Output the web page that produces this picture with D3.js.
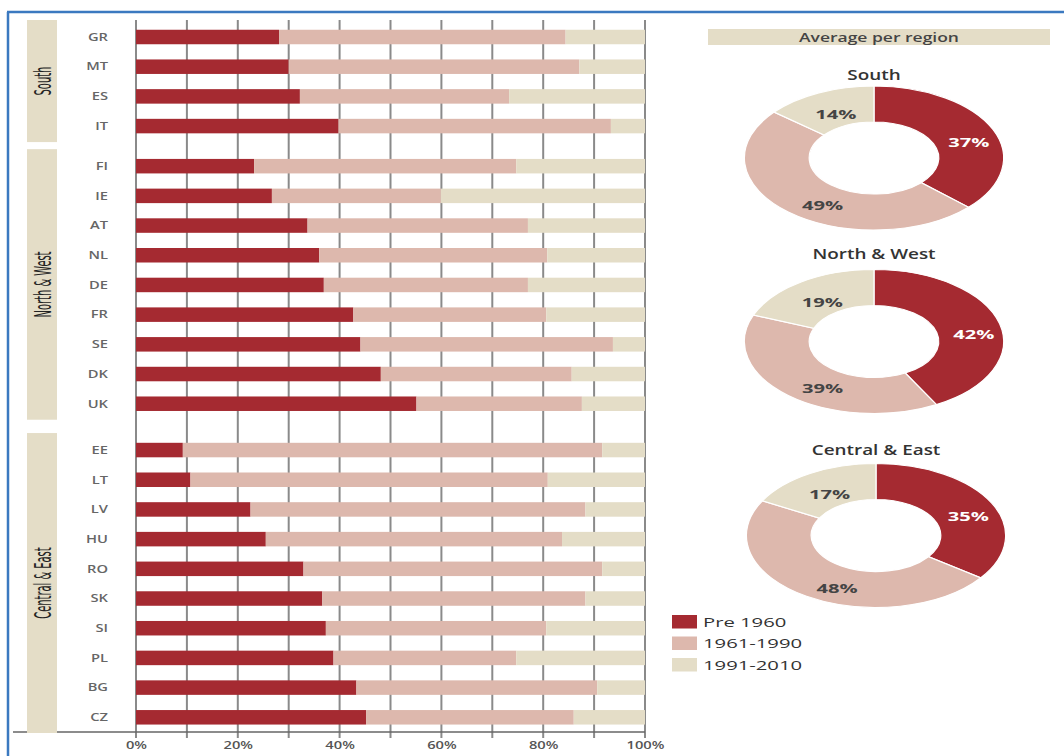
<!DOCTYPE html>
<html>
<head>
<meta charset="utf-8">
<script src="https://cdn.jsdelivr.net/npm/d3@7"></script>
<style>
  body { margin: 0; background: #fff; }
  svg { display: block; }
  text { font-family: "Open Sans", "DejaVu Sans", sans-serif; }
  .region-label { font-family: "Liberation Sans Narrow", "DejaVu Sans Condensed", sans-serif; font-size: 11px; fill: #222; }
</style>
</head>
<body>
<div id="chart"></div>
<script>
// Countries, top to bottom, and the region each belongs to
var countries = ["GR","MT","ES","IT","FI","IE","AT","NL","DE","FR","SE","DK","UK","EE","LT","LV","HU","RO","SK","SI","PL","BG","CZ"];
var regionOf  = ["South","South","South","South",
                 "North & West","North & West","North & West","North & West","North & West","North & West","North & West","North & West","North & West",
                 "Central & East","Central & East","Central & East","Central & East","Central & East","Central & East","Central & East","Central & East","Central & East","Central & East"];

// share of dwellings by construction period (%)
var pre1960  = [28.1,30.0,32.2,39.8, 23.2,26.7,33.7,36.0,36.9,42.7,44.1,48.1,55.1, 9.2,10.7,22.5,25.5,32.9,36.6,37.3,38.8,43.3,45.2];
var y1961_90 = [56.3,57.1,41.1,53.5, 51.5,33.2,43.3,44.8,40.1,37.9,49.6,37.5,32.5, 82.4,70.2,65.8,58.2,58.7,51.7,43.3,35.9,47.3,40.8];
var y1991_10 = [15.6,12.9,26.7, 6.7, 25.3,40.1,23.0,19.2,23.0,19.4, 6.3,14.4,12.4, 8.4,19.1,11.7,16.3, 8.4,11.7,19.4,25.3, 9.4,14.0];

var seriesNames = ["Pre 1960","1961-1990","1991-2010"];
var seriesColors = ["#a52a31","#ddb8ad","#e4ddc7"];

var regions = ["South","North & West","Central & East"];
// average per region (%), same order as seriesNames
var avgPre    = [37, 42, 35];
var avgMid    = [49, 39, 48];
var avgRecent = [14, 19, 17];

var xTicks = [0,10,20,30,40,50,60,70,80,90,100];
var xTickLabels = ["0%","","20%","","40%","","60%","","80%","","100%"];

var width = 1064, height = 756;
var stretch = 1.4; // the original artwork is squashed horizontally

var svg = d3.select("#chart").append("svg")
  .attr("width", width)
  .attr("height", height);

// blue frame
svg.append("line").attr("x1", 7).attr("x2", width).attr("y1", 12).attr("y2", 12)
  .attr("stroke", "#3b79c0").attr("stroke-width", 2.5);
svg.append("line").attr("x1", 8).attr("x2", 8).attr("y1", 12).attr("y2", height)
  .attr("stroke", "#3b79c0").attr("stroke-width", 2.5);

var x = d3.scaleLinear().domain([0, 100]).range([136, 645]);

// extra gap (in rows) before each region block
var gapBefore = {"South": 0, "North & West": 0.35, "Central & East": 0.91};
var rowPos = countries.map(function(c, i) { return i + gapBefore[regionOf[i]]; });
var y = d3.scaleLinear().domain([0, rowPos[rowPos.length - 1]]).range([37, 717.3]);
var barH = 14.5;

// vertical grid lines (behind the bars)
svg.append("g").selectAll("line")
  .data(xTicks)
  .enter().append("line")
  .attr("x1", function(d) { return x(d); })
  .attr("x2", function(d) { return x(d); })
  .attr("y1", 20)
  .attr("y2", 738)
  .attr("stroke", "#8a8a8a")
  .attr("stroke-width", 2);

// bottom axis
var xAxis = d3.axisBottom(x)
  .tickValues(xTicks)
  .tickSize(0)
  .tickPadding(10)
  .tickFormat(function(d, i) { return xTickLabels[i]; });
var axisG = svg.append("g").attr("transform", "translate(0,732)").call(xAxis);
axisG.select(".domain").remove();
axisG.selectAll("text")
  .attr("fill", "#555")
  .style("font-size", "10.5px")
  .style("font-weight", 600)
  .attr("transform", "scale(" + stretch + ",1)");
svg.append("line").attr("x1", 13).attr("x2", 645).attr("y1", 732).attr("y2", 732)
  .attr("stroke", "#666").attr("stroke-width", 1.5);

// stacked bars
var rows = countries.map(function(c, i) {
  return {name: c, vals: [pre1960[i], y1961_90[i], y1991_10[i]], pos: rowPos[i]};
});
var barG = svg.append("g");
rows.forEach(function(r) {
  var acc = 0;
  r.vals.forEach(function(v, k) {
    barG.append("rect")
      .attr("x", x(acc))
      .attr("y", y(r.pos) - barH / 2)
      .attr("width", x(acc + v) - x(acc))
      .attr("height", barH)
      .attr("fill", seriesColors[k]);
    acc += v;
  });
});

// country labels
svg.append("g").selectAll("text")
  .data(rows)
  .enter().append("text")
  .attr("transform", function(d) { return "translate(108," + y(d.pos) + ") scale(" + stretch + ",1)"; })
  .attr("dy", "0.36em")
  .attr("text-anchor", "end")
  .attr("fill", "#666")
  .style("font-size", "10.5px")
  .style("font-weight", 600)
  .text(function(d) { return d.name; });

// region boxes on the left
regions.forEach(function(reg) {
  var idx = regionOf.map(function(r, i) { return r === reg ? i : -1; }).filter(function(i) { return i >= 0; });
  var top = y(rowPos[idx[0]]) - 17;
  var bottom = y(rowPos[idx[idx.length - 1]]) + 16;
  if (reg === "Central & East") bottom = 733;
  svg.append("rect")
    .attr("x", 27).attr("y", top)
    .attr("width", 30).attr("height", bottom - top)
    .attr("fill", seriesColors[2]);
  svg.append("text")
    .attr("class", "region-label")
    .attr("transform", "translate(51," + ((top + bottom) / 2) + ") scale(2.1,1) rotate(-90)")
    .attr("text-anchor", "middle")
    .text(reg);
});

// right panel: header
svg.append("rect").attr("x", 708).attr("y", 29).attr("width", 342).attr("height", 16)
  .attr("fill", seriesColors[2]);
svg.append("text")
  .attr("transform", "translate(879,42) scale(" + stretch + ",1)")
  .attr("text-anchor", "middle")
  .attr("fill", "#444")
  .style("font-size", "12.5px")
  .style("font-weight", 600)
  .text("Average per region");

// donuts
var donutCenters = [[874, 158], [874, 341.5], [876, 535.5]];
var titleY = [80, 259, 455];
var ry = 72, rxScale = 1.8;
var pie = d3.pie().sort(null);
var arc = d3.arc().innerRadius(36).outerRadius(ry);
var labelArc = d3.arc().innerRadius(55).outerRadius(55);

regions.forEach(function(reg, r) {
  var vals = [avgPre[r], avgMid[r], avgRecent[r]];
  var cx = donutCenters[r][0], cy = donutCenters[r][1];
  var arcs = pie(vals);

  svg.append("text")
    .attr("transform", "translate(" + cx + "," + titleY[r] + ") scale(" + stretch + ",1)")
    .attr("text-anchor", "middle")
    .attr("fill", "#333")
    .style("font-size", "13.5px")
    .style("font-weight", 600)
    .text(reg);

  var g = svg.append("g").attr("transform", "translate(" + cx + "," + cy + ") scale(" + rxScale + ",1)");
  g.selectAll("path")
    .data(arcs)
    .enter().append("path")
    .attr("d", arc)
    .attr("fill", function(d, i) { return seriesColors[i]; })
    .attr("stroke", "#fff")
    .attr("stroke-width", 1.2)
    .attr("vector-effect", "non-scaling-stroke");

  svg.append("g").selectAll("text")
    .data(arcs)
    .enter().append("text")
    .attr("transform", function(d, i) {
      var c = labelArc.centroid(d);
      var nudge = i === 1 ? 14 : 4; // labels sit a bit right in the original
      return "translate(" + (cx + c[0] * rxScale + nudge) + "," + (cy + c[1] + 6) + ") scale(1.55,1)";
    })
    .attr("text-anchor", "middle")
    .attr("dy", "0.36em")
    .attr("fill", function(d, i) { return i === 0 ? "#fff" : "#444"; })
    .style("font-size", "13px")
    .style("font-weight", 700)
    .text(function(d) { return d.data + "%"; });
});

// legend
var legend = svg.append("g").selectAll("g")
  .data(seriesNames)
  .enter().append("g")
  .attr("transform", function(d, i) { return "translate(672," + (615 + i * 21.5) + ")"; });
legend.append("rect")
  .attr("width", 25).attr("height", 13.5)
  .attr("fill", function(d, i) { return seriesColors[i]; });
legend.append("text")
  .attr("transform", "translate(31,7) scale(1.5,1)")
  .attr("dy", "0.36em")
  .attr("fill", "#333")
  .style("font-size", "13.5px")
  .text(function(d) { return d; });
</script>
</body>
</html>
